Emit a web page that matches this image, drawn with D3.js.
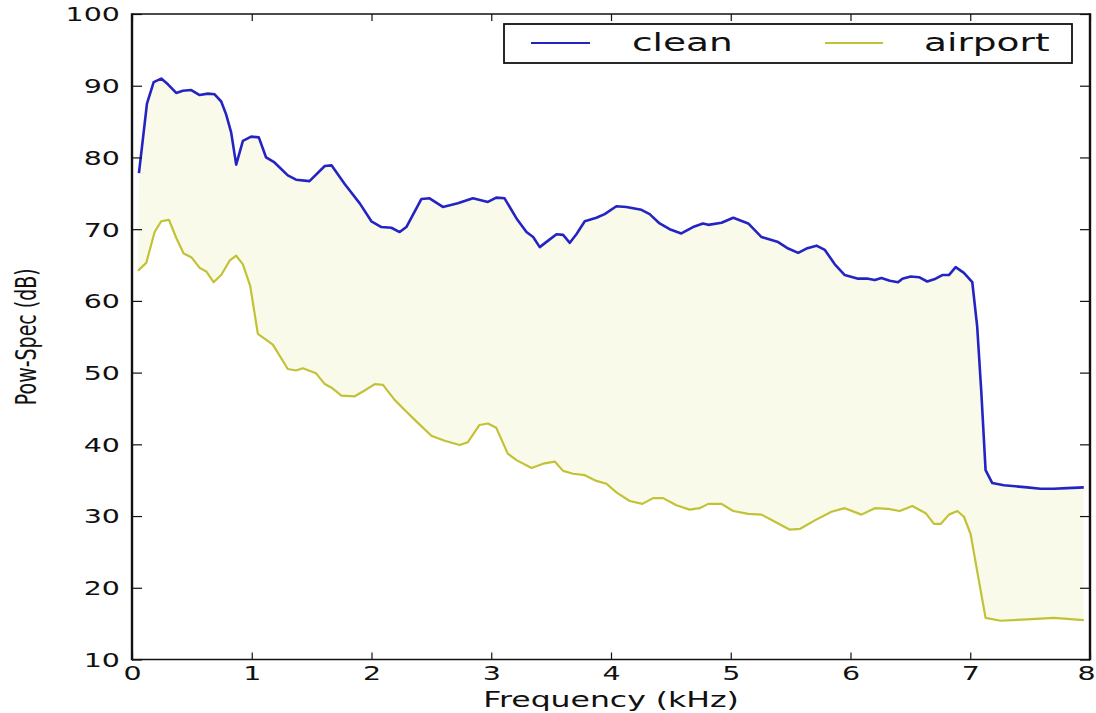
<!DOCTYPE html>
<html>
<head>
<meta charset="utf-8">
<script src="https://cdn.jsdelivr.net/npm/d3@7"></script>
<style>
  body { margin: 0; background: #fff; }
  text { font-family: "DejaVu Sans", sans-serif; fill: #111; }
</style>
</head>
<body>
<div id="vis"></div>
<script>
const W = 1096, H = 713;

// clean speech spectrum (kHz, dB)
const freqClean = [0.058,0.125,0.181,0.244,0.300,0.369,0.425,0.495,0.565,0.634,0.690,0.745,0.786,0.828,0.870,0.926,0.995,1.059,1.120,1.190,1.301,1.370,1.482,1.610,1.666,1.776,1.902,1.999,2.083,2.166,2.235,2.291,2.416,2.485,2.596,2.721,2.847,2.972,3.042,3.111,3.211,3.294,3.350,3.405,3.475,3.545,3.600,3.656,3.711,3.781,3.878,3.947,4.045,4.128,4.254,4.323,4.406,4.490,4.587,4.685,4.768,4.812,4.923,5.021,5.146,5.257,5.396,5.480,5.563,5.632,5.716,5.786,5.869,5.952,6.063,6.147,6.203,6.258,6.328,6.397,6.433,6.503,6.572,6.641,6.711,6.767,6.822,6.878,6.947,7.017,7.058,7.092,7.128,7.184,7.281,7.475,7.587,7.698,7.809,7.948];
const powClean = [77.8,87.5,90.5,91.0,90.2,89.0,89.3,89.4,88.7,88.9,88.8,87.8,86.0,83.5,79.0,82.3,82.9,82.8,80.0,79.3,77.5,76.9,76.7,78.8,78.9,76.3,73.6,71.1,70.3,70.2,69.6,70.3,74.2,74.3,73.1,73.6,74.3,73.8,74.4,74.3,71.5,69.6,68.9,67.5,68.4,69.3,69.2,68.1,69.3,71.1,71.6,72.1,73.2,73.1,72.7,72.1,70.8,70.0,69.4,70.3,70.8,70.6,70.9,71.6,70.8,68.9,68.2,67.3,66.7,67.3,67.7,67.1,65.1,63.6,63.1,63.1,62.9,63.2,62.8,62.6,63.1,63.4,63.3,62.7,63.1,63.6,63.6,64.7,63.9,62.6,56.4,47.4,36.4,34.6,34.3,34.0,33.8,33.8,33.9,34.0];

// airport noise spectrum (kHz, dB)
const freqAirport = [0.050,0.119,0.189,0.244,0.309,0.369,0.431,0.495,0.565,0.620,0.681,0.745,0.815,0.870,0.926,0.987,1.051,1.176,1.301,1.370,1.426,1.537,1.610,1.666,1.749,1.860,1.943,2.027,2.096,2.193,2.277,2.374,2.500,2.611,2.736,2.805,2.902,2.972,3.042,3.138,3.211,3.336,3.434,3.530,3.600,3.684,3.781,3.878,3.962,4.045,4.156,4.262,4.351,4.435,4.546,4.656,4.740,4.812,4.923,5.021,5.146,5.257,5.369,5.494,5.577,5.702,5.841,5.952,6.091,6.203,6.314,6.411,6.516,6.628,6.697,6.753,6.822,6.892,6.947,7.003,7.072,7.128,7.254,7.475,7.698,7.948];
const powAirport = [64.2,65.3,69.6,71.1,71.3,68.8,66.6,66.1,64.6,64.1,62.6,63.6,65.6,66.3,65.1,62.1,55.4,53.9,50.5,50.3,50.6,49.9,48.4,47.9,46.8,46.7,47.5,48.4,48.3,46.2,44.8,43.2,41.2,40.5,39.9,40.3,42.7,42.9,42.3,38.7,37.8,36.7,37.3,37.6,36.3,35.9,35.7,34.9,34.5,33.3,32.1,31.7,32.5,32.5,31.5,30.9,31.1,31.7,31.7,30.7,30.3,30.2,29.2,28.1,28.2,29.4,30.6,31.1,30.2,31.1,31.0,30.7,31.4,30.4,28.9,28.9,30.2,30.7,29.9,27.5,21.0,15.8,15.4,15.6,15.8,15.5];

const xTicks = [0,1,2,3,4,5,6,7,8];
const yTicks = [10,20,30,40,50,60,70,80,90,100];
const seriesNames = ['clean', 'airport'];
const colors = { clean: '#2424c4', airport: '#c2c236' };

const clean = freqClean.map((f, i) => ({ f: f, v: powClean[i] }));
const airport = freqAirport.map((f, i) => ({ f: f, v: powAirport[i] }));

const svg = d3.select('#vis')
    .append('svg')
    .attr('width', W)
    .attr('height', H);

const x = d3.scaleLinear().domain([0, 8]).range([132, 1090]);
const y = d3.scaleLinear().domain([10, 100]).range([659.5, 14]);

const line = d3.line().x(d => x(d.f)).y(d => y(d.v));

// shaded band between the two curves
svg.append('path')
    .attr('d', line(clean.concat(airport.slice().reverse())) + 'Z')
    .attr('fill', '#fafaeb')
    .attr('stroke', 'none');

svg.append('path')
    .datum(airport)
    .attr('d', line)
    .attr('fill', 'none')
    .attr('stroke', colors.airport)
    .attr('stroke-width', 2.2)
    .attr('stroke-linejoin', 'round');

svg.append('path')
    .datum(clean)
    .attr('d', line)
    .attr('fill', 'none')
    .attr('stroke', colors.clean)
    .attr('stroke-width', 2.6)
    .attr('stroke-linejoin', 'round');

// axes, ticks point inward on all four sides
const stretch = 'scale(1.5,1)';

svg.append('g')
    .attr('transform', `translate(0,${y(10)})`)
    .call(d3.axisBottom(x).tickValues(xTicks).tickSizeInner(-7).tickSizeOuter(0).tickPadding(0).tickFormat(d3.format('d')))
    .call(g => g.select('.domain').remove())
    .call(g => g.selectAll('line').attr('stroke', '#111').attr('stroke-width', 1.2))
    .call(g => g.selectAll('text')
        .attr('y', 20.5).attr('dy', 0)
        .attr('x', d => d === 8 ? -4 / 1.5 : 0)   // last label sits at the page edge
        .attr('transform', stretch)
        .style('font-size', '19px')
        .style('font-family', '"DejaVu Sans", sans-serif')
        .attr('fill', '#111'));

svg.append('g')
    .attr('transform', `translate(0,${y(100)})`)
    .call(d3.axisTop(x).tickValues(xTicks).tickSizeInner(-7).tickSizeOuter(0).tickFormat(''))
    .call(g => g.select('.domain').remove())
    .call(g => g.selectAll('line').attr('stroke', '#111').attr('stroke-width', 1.2));

svg.append('g')
    .attr('transform', `translate(${x(0)},0)`)
    .call(d3.axisLeft(y).tickValues(yTicks).tickSizeInner(-10).tickSizeOuter(0).tickPadding(0).tickFormat(d3.format('d')))
    .call(g => g.select('.domain').remove())
    .call(g => g.selectAll('line').attr('stroke', '#111').attr('stroke-width', 1.2))
    .call(g => g.selectAll('text')
        .attr('x', -12 / 1.5).attr('dy', '0.36em')
        .attr('transform', stretch)
        .style('font-size', '19px')
        .style('font-family', '"DejaVu Sans", sans-serif')
        .attr('fill', '#111'));

svg.append('g')
    .attr('transform', `translate(${x(8)},0)`)
    .call(d3.axisRight(y).tickValues(yTicks).tickSizeInner(-10).tickSizeOuter(0).tickFormat(''))
    .call(g => g.select('.domain').remove())
    .call(g => g.selectAll('line').attr('stroke', '#111').attr('stroke-width', 1.2));

// frame
svg.append('line').attr('x1', x(0)).attr('x2', x(8)).attr('y1', y(100)).attr('y2', y(100))
    .attr('stroke', '#111').attr('stroke-width', 1.6);
svg.append('line').attr('x1', x(0)).attr('x2', x(8)).attr('y1', y(10)).attr('y2', y(10))
    .attr('stroke', '#111').attr('stroke-width', 1.6);
svg.append('line').attr('x1', x(0)).attr('x2', x(0)).attr('y1', y(100) - 0.8).attr('y2', y(10) + 0.8)
    .attr('stroke', '#111').attr('stroke-width', 2.4);
svg.append('line').attr('x1', x(8)).attr('x2', x(8)).attr('y1', y(100) - 0.8).attr('y2', y(10) + 0.8)
    .attr('stroke', '#111').attr('stroke-width', 2.4);

// axis labels
svg.append('text')
    .attr('transform', `translate(${x(4)},707) ${stretch}`)
    .attr('text-anchor', 'middle')
    .style('font-size', '21px')
    .text('Frequency (kHz)');

svg.append('text')
    .attr('transform', `translate(36,${(y(10) + y(100)) / 2}) ${stretch} rotate(-90)`)
    .attr('text-anchor', 'middle')
    .style('font-size', '19px')
    .text('Pow-Spec (dB)');

// legend
svg.append('rect')
    .attr('x', 504).attr('y', 24).attr('width', 568).attr('height', 39)
    .attr('fill', '#fff')
    .attr('stroke', '#111')
    .attr('stroke-width', 1.8);

const legendX = { clean: [531, 590, 632], airport: [825, 883, 924] };
seriesNames.forEach(name => {
    const p = legendX[name];
    svg.append('line')
        .attr('x1', p[0]).attr('x2', p[1]).attr('y1', 43).attr('y2', 43)
        .attr('stroke', colors[name]).attr('stroke-width', 2);
    svg.append('text')
        .attr('transform', `translate(${p[2]},51) ${stretch}`)
        .style('font-size', '25px')
        .text(name);
});
</script>
</body>
</html>
